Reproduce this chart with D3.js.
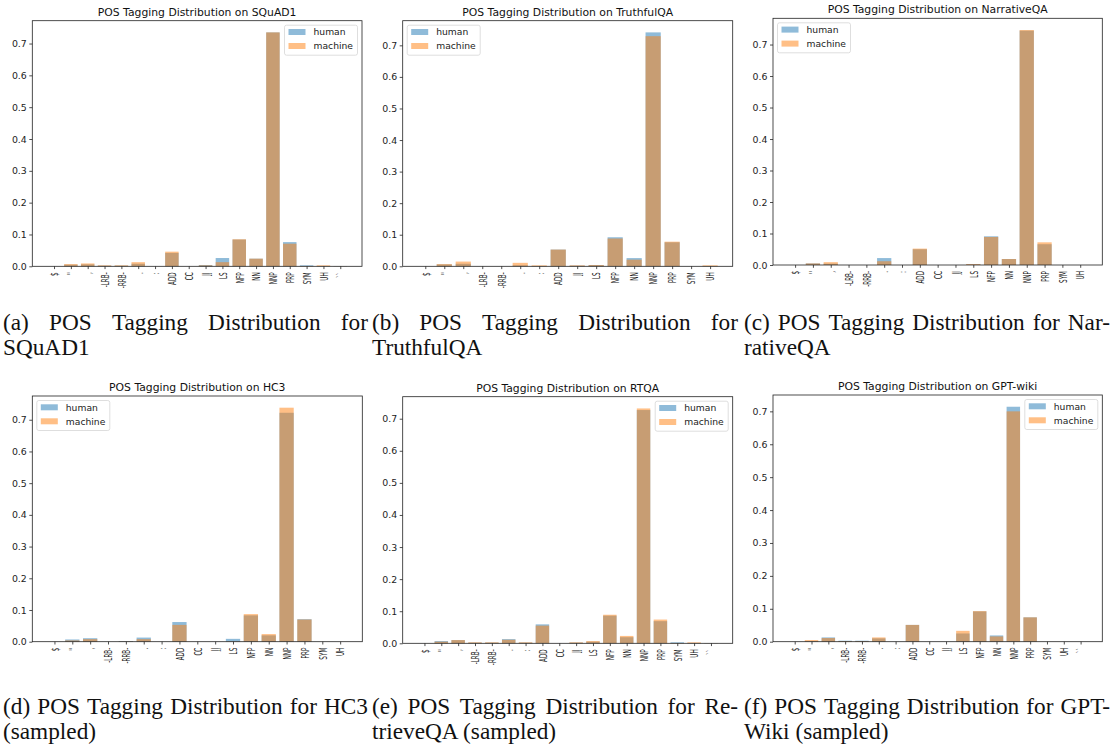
<!DOCTYPE html>
<html>
<head>
<meta charset="utf-8">
<script src="https://cdn.jsdelivr.net/npm/d3@7"></script>
<style>
  body { margin: 0; background: #fff; }
  svg { display: block; }
</style>
</head>
<body>
<svg id="chart" width="1117" height="751"></svg>
<script>
// ---------------- DATA ----------------
const seriesNames = ["human", "machine"];

const squadCats = ["$", "''", ",", "-LRB-", "-RRB-", ".", ":", "ADD", "CC", "JJ", "LS", "NFP", "NN", "NNP", "PRP", "SYM", "UH", "``"];
const squadHuman = [0, 0.005, 0.006, 0.002, 0.002, 0.008, 0, 0.042, 0, 0.004, 0.026, 0.084, 0.024, 0.735, 0.076, 0.003, 0.001, 0.0005];
const squadMachine = [0, 0.007, 0.009, 0.003, 0.003, 0.013, 0, 0.046, 0, 0.003, 0.013, 0.085, 0.024, 0.735, 0.071, 0.001, 0.003, 0.0005];

const truthfulCats = ["$", "''", ",", "-LRB-", "-RRB-", ".", ":", "ADD", "JJ", "LS", "NFP", "NN", "NNP", "PRP", "SYM", "UH"];
const truthfulHuman = [0, 0.006, 0.008, 0, 0, 0.003, 0.001, 0.053, 0.002, 0.004, 0.092, 0.026, 0.741, 0.076, 0, 0.001];
const truthfulMachine = [0, 0.007, 0.015, 0, 0, 0.011, 0.003, 0.053, 0.003, 0.004, 0.088, 0.021, 0.729, 0.078, 0, 0.003];

const narrativeCats = ["$", "''", ",", "-LRB-", "-RRB-", ".", ":", "ADD", "CC", "JJ", "LS", "NFP", "NN", "NNP", "PRP", "SYM", "UH"];
const narrativeHuman = [0, 0.005, 0.004, 0, 0, 0.022, 0, 0.050, 0, 0, 0.002, 0.091, 0.019, 0.744, 0.066, 0, 0];
const narrativeMachine = [0, 0.005, 0.009, 0, 0, 0.012, 0, 0.052, 0, 0, 0.003, 0.089, 0.019, 0.746, 0.072, 0, 0];

const hc3Cats = ["$", "''", ",", "-LRB-", "-RRB-", ".", ":", "ADD", "CC", "JJ", "LS", "NFP", "NN", "NNP", "PRP", "SYM", "UH"];
const hc3Human = [0, 0.007, 0.011, 0, 0.002, 0.013, 0, 0.062, 0, 0, 0.009, 0.083, 0.020, 0.722, 0.071, 0, 0];
const hc3Machine = [0, 0.004, 0.008, 0, 0.001, 0.008, 0, 0.053, 0, 0, 0.001, 0.087, 0.024, 0.738, 0.070, 0, 0];

const rtqaCats = ["$", "''", ",", "-LRB-", "-RRB-", ".", ":", "ADD", "CC", "JJ", "LS", "NFP", "NN", "NNP", "PRP", "SYM", "UH", "``"];
const rtqaHuman = [0, 0.007, 0.010, 0.002, 0.002, 0.013, 0.002, 0.059, 0, 0.002, 0.005, 0.086, 0.019, 0.727, 0.069, 0.003, 0.001, 0.0005];
const rtqaMachine = [0, 0.005, 0.010, 0.003, 0.003, 0.011, 0.003, 0.055, 0, 0.003, 0.007, 0.089, 0.023, 0.732, 0.074, 0.001, 0.003, 0.0005];

const gptwikiCats = ["$", "''", ",", "-LRB-", "-RRB-", ".", ":", "ADD", "CC", "JJ", "LS", "NFP", "NN", "NNP", "PRP", "SYM", "UH", "``"];
const gptwikiHuman = [0, 0.002, 0.013, 0.003, 0.003, 0.010, 0, 0.051, 0, 0, 0.025, 0.092, 0.019, 0.714, 0.074, 0, 0, 0];
const gptwikiMachine = [0, 0.005, 0.011, 0.002, 0.002, 0.013, 0, 0.051, 0, 0, 0.033, 0.093, 0.016, 0.700, 0.074, 0, 0, 0];

const yTicks = [0, 0.1, 0.2, 0.3, 0.4, 0.5, 0.6, 0.7];

const plotTitles = [
  "POS Tagging Distribution on SQuAD1",
  "POS Tagging Distribution on TruthfulQA",
  "POS Tagging Distribution on NarrativeQA",
  "POS Tagging Distribution on HC3",
  "POS Tagging Distribution on RTQA",
  "POS Tagging Distribution on GPT-wiki"
];
const captionLine1 = [
  "(a) POS Tagging Distribution for",
  "(b) POS Tagging Distribution for",
  "(c) POS Tagging Distribution for Nar-",
  "(d) POS Tagging Distribution for HC3",
  "(e) POS Tagging Distribution for Re-",
  "(f) POS Tagging Distribution for GPT-"
];
const captionLine2 = ["SQuAD1", "TruthfulQA", "rativeQA", "(sampled)", "trieveQA (sampled)", "Wiki (sampled)"];

// ---------------- LAYOUT ----------------
const panels = [
  { cats: squadCats, h: squadHuman, m: squadMachine, box: [32.3, 362, 20.7, 266.3], legend: "ur" },
  { cats: truthfulCats, h: truthfulHuman, m: truthfulMachine, box: [402.7, 732.7, 20.7, 266.3], legend: "ul" },
  { cats: narrativeCats, h: narrativeHuman, m: narrativeMachine, box: [773, 1102.3, 18.3, 265], legend: "ul" },
  { cats: hc3Cats, h: hc3Human, m: hc3Machine, box: [32.3, 362.3, 396, 641.7], legend: "ul" },
  { cats: rtqaCats, h: rtqaHuman, m: rtqaMachine, box: [402.7, 732.7, 396.7, 643.3], legend: "ur" },
  { cats: gptwikiCats, h: gptwikiHuman, m: gptwikiMachine, box: [773, 1102.3, 395, 641.7], legend: "ur" }
];
const captionCols = [[3, 368], [372, 738], [744, 1110]];
const captionBase = [[330, 355], [714, 739]];

const colors = { human: "#1f77b4", machine: "#ff7f0e" };
const svg = d3.select("#chart");
const sansFont = "DejaVu Sans";
const capFont = "Liberation Serif";
const capSize = 24, capScale = 0.97;

panels.forEach((p, pi) => {
  const [L, R, T, B] = p.box;
  const n = p.cats.length;
  const span = (n - 1) + 0.8;
  const x = d3.scaleLinear().domain([-0.4 - 0.05 * span, n - 1 + 0.4 + 0.05 * span]).range([L, R]);
  const ymax = d3.max(p.h.concat(p.m)) * 1.05;
  const y = d3.scaleLinear().domain([0, ymax]).range([B, T]);
  const g = svg.append("g");

  // bars: human first, machine over it
  [["human", p.h], ["machine", p.m]].forEach(([name, vals]) => {
    g.append("g").selectAll("rect").data(vals).join("rect")
      .attr("x", (d, i) => x(i - 0.4))
      .attr("width", x(0.8) - x(0))
      .attr("y", d => y(d))
      .attr("height", d => y(0) - y(d))
      .attr("fill", colors[name])
      .attr("fill-opacity", 0.5);
  });

  // y axis
  const yAxis = d3.axisLeft(y).tickValues(yTicks).tickFormat(d3.format(".1f")).tickSize(3).tickPadding(2.5);
  const ya = g.append("g").attr("transform", `translate(${L},0)`).call(yAxis);
  ya.select(".domain").remove();
  ya.selectAll("line").attr("stroke", "#222").attr("stroke-width", 0.8);
  ya.selectAll("text").attr("font-family", sansFont).attr("font-size", 9.4).attr("fill", "#222");

  // x axis
  const xAxis = d3.axisBottom(x).tickValues(d3.range(n)).tickFormat(i => p.cats[i]).tickSize(2.8).tickPadding(0);
  const xa = g.append("g").attr("transform", `translate(0,${B})`).call(xAxis);
  xa.select(".domain").remove();
  xa.selectAll("line").attr("stroke", "#222").attr("stroke-width", 0.8);
  xa.selectAll("text")
    .attr("font-family", sansFont).attr("font-size", 10.5).attr("fill", "#222")
    .attr("text-anchor", "end")
    .attr("y", 0).attr("dy", "0.36em")
    .attr("transform", "translate(0,6) rotate(-90) scale(0.54,1)");

  // frame
  g.append("rect").attr("x", L).attr("y", T).attr("width", R - L).attr("height", B - T)
    .attr("fill", "none").attr("stroke", "#222").attr("stroke-width", 0.8);

  // title
  g.append("text").attr("x", (L + R) / 2).attr("y", T - 5)
    .attr("text-anchor", "middle").attr("font-family", sansFont).attr("font-size", 10.8).attr("fill", "#111")
    .text(plotTitles[pi]);

  // legend
  const lw = 73, lh = 30, inset = 4.5;
  const lx = p.legend === "ur" ? R - inset - lw : L + inset;
  const ly = T + inset;
  const lg = g.append("g").attr("transform", `translate(${lx},${ly})`);
  lg.append("rect").attr("width", lw).attr("height", lh).attr("rx", 2)
    .attr("fill", "#fff").attr("fill-opacity", 0.8).attr("stroke", "#d5d5d5").attr("stroke-width", 0.8);
  seriesNames.forEach((s, si) => {
    const cy = 6.8 + si * 14;
    lg.append("rect").attr("x", 4).attr("y", cy - 3).attr("width", 17).attr("height", 6)
      .attr("fill", colors[s]).attr("fill-opacity", 0.5);
    lg.append("text").attr("x", 29).attr("y", cy + 3.3)
      .attr("font-family", sansFont).attr("font-size", 9.2).attr("fill", "#222").text(s);
  });
});

// captions (justified first line)
captionLine1.forEach((line, ci) => {
  const col = captionCols[ci % 3];
  const row = Math.floor(ci / 3);
  const [b1, b2] = captionBase[row];
  const words = line.split(" ");
  const tg = svg.append("g");
  const nodes = words.map(w => tg.append("text")
    .attr("font-family", capFont).attr("font-size", capSize).attr("fill", "#111")
    .text(w));
  const widths = nodes.map(nd => nd.node().getComputedTextLength() * capScale);
  const total = d3.sum(widths);
  const gap = (col[1] - col[0] - total) / (words.length - 1);
  let cx = col[0];
  nodes.forEach((nd, k) => {
    nd.attr("transform", `translate(${cx},${b1}) scale(${capScale},1)`);
    cx += widths[k] + gap;
  });
  svg.append("text")
    .attr("transform", `translate(${col[0]},${b2}) scale(${capScale},1)`)
    .attr("font-family", capFont).attr("font-size", capSize).attr("fill", "#111")
    .text(captionLine2[ci]);
});
</script>
</body>
</html>
